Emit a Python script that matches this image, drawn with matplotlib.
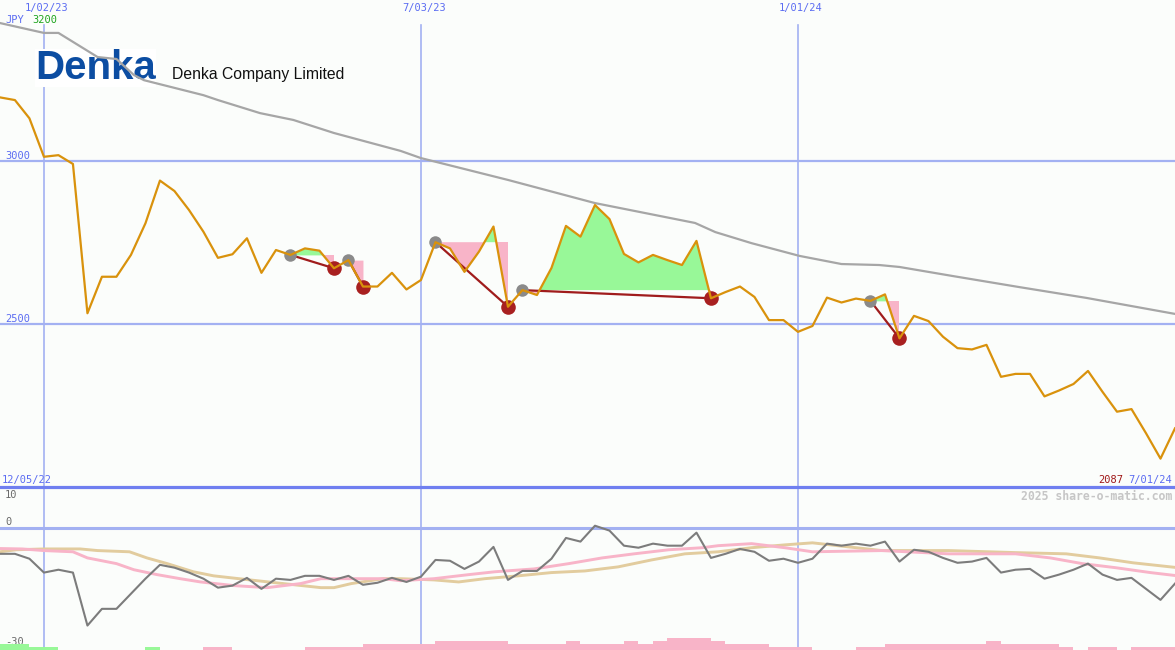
import numpy as np
import matplotlib
matplotlib.use("Agg")
import matplotlib.pyplot as plt
from matplotlib.lines import Line2D

# ---------------- data (weeks counted from 1/02/23) ----------------
weeks = np.arange(-3, 79)
price = np.array([
    3195, 3187, 3131, 3013, 3018, 2991, 2533, 2645, 2645, 2712,
    2809, 2940, 2908, 2850, 2783, 2703, 2714, 2763, 2657, 2727,
    2712, 2732, 2725, 2671, 2696, 2615, 2615, 2657, 2606, 2635,
    2751, 2732, 2660, 2722, 2799, 2553, 2604, 2589, 2672, 2801,
    2768, 2865, 2822, 2715, 2689, 2712, 2696, 2681, 2755, 2579,
    2598, 2615, 2583, 2512, 2512, 2476, 2494, 2581, 2566, 2578,
    2571, 2591, 2456, 2525, 2509, 2461, 2426, 2422, 2436, 2338,
    2347, 2347, 2278, 2296, 2316, 2356, 2292, 2231, 2239, 2165,
    2087, 2180])

ma_weeks = [-3, 0, 1, 3.7, 5, 6.2, 6.9, 11, 12, 14.9, 17.2, 20, 24.6, 26, 32,
            38, 44.9, 46.3, 48.8, 52.1, 55, 57.6, 59, 62.7, 67.3, 71.9, 78]
ma_values = [3423, 3393, 3393, 3319, 3313, 3264, 3248, 3202, 3187, 3147, 3126,
             3086, 3031, 3009, 2942, 2871, 2810, 2782, 2748, 2709, 2684, 2681,
             2675, 2647, 2613, 2580, 2531]

peak_weeks = [17, 21, 27, 33, 57]
trough_weeks = [20, 22, 32, 46, 59]

osc = np.array([
    -6.4, -6.4, -7.6, -11.0, -10.3, -11.0, -24.0, -19.9, -19.9, -16.2,
    -12.5, -9.1, -9.8, -11.0, -12.5, -14.7, -14.2, -12.3, -15.0, -12.5,
    -12.8, -11.8, -11.8, -12.8, -11.8, -14.0, -13.5, -12.3, -13.3, -12.0,
    -7.9, -8.1, -10.1, -8.3, -4.7, -12.8, -10.6, -10.6, -7.6, -2.5,
    -3.4, 0.5, -0.7, -4.4, -4.9, -3.9, -4.4, -4.4, -1.2, -7.4,
    -6.4, -5.2, -5.9, -8.1, -7.6, -8.6, -7.6, -3.9, -4.4, -3.9,
    -4.4, -3.4, -8.3, -5.4, -5.9, -7.4, -8.6, -8.3, -7.4, -11.0,
    -10.3, -10.1, -12.5, -11.5, -10.3, -8.8, -11.5, -12.8, -12.3, -15.0,
    -17.7, -13.7])

pink_weeks = [-3.04, -1.5, 0, 2, 3, 5, 6.2, 7.8, 9.4, 10.8, 13.1, 15.4, 17.7,
              19.1, 21.2, 23.4, 24.6, 26.9, 29.3, 31.1, 33.8, 36.2, 38.5, 40.7,
              43.1, 45.4, 46.5, 48.8, 51.1, 53, 57.8, 62.4, 67, 69.4, 71.6,
              73.9, 76.3, 78.2]
pink_values = [-5.1, -5.2, -5.6, -5.9, -7.4, -8.8, -10.3, -11.5, -12.5, -13.3,
               -14.2, -14.7, -13.7, -12.5, -12.5, -12.5, -13.0, -12.5, -11.5,
               -10.8, -10.1, -8.8, -7.4, -6.4, -5.4, -4.9, -4.4, -3.9, -4.9,
               -5.9, -5.6, -6.4, -6.4, -7.4, -8.8, -9.8, -11.0, -11.8]

tan_weeks = [-3.04, -1.9, 0, 2.5, 3.7, 5.9, 7.1, 8.5, 10.3, 11.7, 14.2, 16.5,
             19.1, 20, 21.2, 23.4, 24.6, 26.9, 28.6, 30.4, 32.7, 35, 37.3,
             39.6, 41.9, 44.2, 46.5, 48.8, 51.1, 53, 55.5, 57.8, 62.4, 67,
             70.5, 72.8, 75.1, 78.2]
tan_values = [-5.9, -5.4, -5.2, -5.2, -5.6, -5.9, -7.4, -8.8, -10.8, -11.8,
              -12.8, -13.7, -14.7, -14.7, -13.7, -12.5, -12.5, -12.8, -13.3,
              -12.5, -11.8, -11.0, -10.6, -9.6, -7.9, -6.4, -5.9, -4.9, -4.2,
              -3.7, -4.7, -5.6, -5.6, -6.1, -6.4, -7.4, -8.6, -9.8]

# signed bar levels for weeks -3..77 (positive = green, negative = pink)
bar_levels = np.array([
    2, 2, 1, 1, 0, 0, 0, 0, 0, 0,
    1, 0, 0, 0, -1, -1, 0, 0, 0, 0,
    0, -1, -1, -1, -1, -2, -2, -2, -2, -2,
    -3, -3, -3, -3, -3, -2, -2, -2, -2, -3,
    -2, -2, -2, -3, -2, -3, -4, -4, -4, -3,
    -2, -2, -2, -1, -1, -1, 0, 0, 0, -1,
    -1, -2, -2, -2, -2, -2, -2, -2, -3, -2,
    -2, -2, -2, -1, 0, -1, -1, 0, -1, -1,
    -1])

date_weeks = [0, 26, 52]
date_labels = ["1/02/23", "7/03/23", "1/01/24"]
price_grid = [3000, 2500]

# ---------------- figure ----------------
W, H = 1175, 650
BG = "#fbfdfb"
BLUE_TXT = "#5b6cf2"
GRID = "#a3b1f2"
GREEN = "#98f898"
PINK = "#f8b4c8"
MONO = "DejaVu Sans Mono"

fig = plt.figure(figsize=(W / 100, H / 100), dpi=100)
fig.patch.set_facecolor(BG)

XL = (-3.03, 78.0)
main_h = 487 / H
ax = fig.add_axes([0, 1 - main_h, 1, main_h])
ax.set_xlim(*XL)
ax.set_ylim(2000, 3494)
ax.axis("off")

axb = fig.add_axes([0, 0, 1, 1 - main_h])
axb.set_xlim(*XL)
axb.set_ylim(-30, 10)
axb.axis("off")

# grid lines
for y in price_grid:
    ax.axhline(y, color=GRID, lw=1.6, zorder=1)
for w in date_weeks:
    ax.axvline(w, ymin=0, ymax=1 - 25 / 487, color=GRID, lw=1.2, zorder=1)
    axb.axvline(w, color=GRID, lw=1.2, zorder=1)
axb.axhline(0, color=GRID, lw=2.2, zorder=1)
fig.add_artist(Line2D([0, 1], [1 - main_h, 1 - main_h], transform=fig.transFigure,
                      color="#6f7ff0", lw=2.3, zorder=5))

# logo block
ax.text(35 / W, 1 - 79 / 487, "Denka", transform=ax.transAxes,
        family="Liberation Sans", weight="bold", fontsize=29, color="#0c4da2",
        va="baseline", ha="left", zorder=1.5,
        bbox=dict(facecolor="white", edgecolor="none", pad=0))
ax.text(172 / W, 1 - 79 / 487, "Denka Company Limited", transform=ax.transAxes,
        family="Liberation Sans", fontsize=11.3, color="#111111",
        va="baseline", ha="left", zorder=1.5)

# moving average
ax.plot(ma_weeks, ma_values, color="#a6a6a6", lw=1.6, zorder=2)

# patterns: fills, connector lines, dots
for g, r in zip(peak_weeks, trough_weeks):
    sel = (weeks >= g) & (weeks <= r)
    xs = weeks[sel]
    ys = price[sel]
    level = price[weeks == g][0]
    ax.fill_between(xs, level, ys, where=ys >= level, interpolate=True,
                    color=GREEN, lw=0, zorder=2.5)
    ax.fill_between(xs, level, ys, where=ys <= level, interpolate=True,
                    color=PINK, lw=0, zorder=2.5)
    ax.plot([g, r], [level, price[weeks == r][0]], color="#a01c1c", lw=1.6, zorder=3)
    ax.plot([g], [level], "o", ms=9, color="#8a8a8a", mec="none", zorder=3.5)
    ax.plot([r], [price[weeks == r][0]], "o", ms=10.5, color="#a82020", mec="none",
            zorder=3.5)

# price line
ax.plot(weeks, price, color="#d9920c", lw=1.6, zorder=4)

# labels, main panel
for w, lab in zip(date_weeks, date_labels):
    ax.text(w + 0.2, 1 - 8 / 487, lab, transform=ax.get_xaxis_transform(),
            family=MONO, fontsize=7.5, color=BLUE_TXT, ha="center", va="center")
ax.text(5 / W, 1 - 20 / 487, "JPY", transform=ax.transAxes, family=MONO,
        fontsize=7.5, color=BLUE_TXT, ha="left", va="center")
ax.text(32 / W, 1 - 20 / 487, "%d" % 3200, transform=ax.transAxes, family=MONO,
        fontsize=7.5, color="#1fa51f", ha="left", va="center")
for y in price_grid:
    ax.annotate(str(y), xy=(5 / W, y), xycoords=("axes fraction", "data"),
                xytext=(0, 1.8), textcoords="offset points", family=MONO,
                fontsize=7.5, color=BLUE_TXT, ha="left", va="baseline")
ax.text(2 / W, 4 / 487, "12/05/22", transform=ax.transAxes, family=MONO,
        fontsize=7.5, color=BLUE_TXT, ha="left", va="baseline")
ax.text(1172 / W, 4 / 487, "7/01/24", transform=ax.transAxes, family=MONO,
        fontsize=7.5, color=BLUE_TXT, ha="right", va="baseline")
ax.text(1123 / W, 4 / 487, str(price.min()), transform=ax.transAxes, family=MONO,
        fontsize=7.5, color="#a01818", ha="right", va="baseline")

# bottom panel
axb.plot(tan_weeks, tan_values, color="#e2cc9e", lw=2.1, zorder=2)
axb.plot(pink_weeks, pink_values, color="#f8b4c8", lw=2.1, zorder=2.2)
axb.plot(weeks, osc, color="#7c7c7c", lw=1.5, zorder=3)

axbar = axb.twinx()
axbar.set_ylim(0, 163 / 3)
axbar.set_xlim(*XL)
axbar.axis("off")
bar_weeks = weeks[:-1]
axbar.bar(bar_weeks, np.abs(bar_levels), width=1.0, align="edge",
          color=np.where(bar_levels > 0, GREEN, PINK), lw=0)

bh = 163
axb.text(5 / W, (650 - 495) / bh, "10", transform=axb.transAxes, family=MONO,
         fontsize=7.5, color="#6a6a6a", ha="left", va="center")
axb.text(5 / W, (650 - 522) / bh, "0", transform=axb.transAxes, family=MONO,
         fontsize=7.5, color="#6a6a6a", ha="left", va="center")
axb.text(5 / W, (650 - 642) / bh, "-30", transform=axb.transAxes, family=MONO,
         fontsize=7.5, color="#6a6a6a", ha="left", va="center", zorder=6)
axb.text(1172 / W, (650 - 496) / bh, "2025 share-o-matic.com", transform=axb.transAxes,
         family=MONO, fontsize=8.3, weight="bold", color="#c6c6c6",
         ha="right", va="center")

fig.savefig("out.png", dpi=100, facecolor=BG)
